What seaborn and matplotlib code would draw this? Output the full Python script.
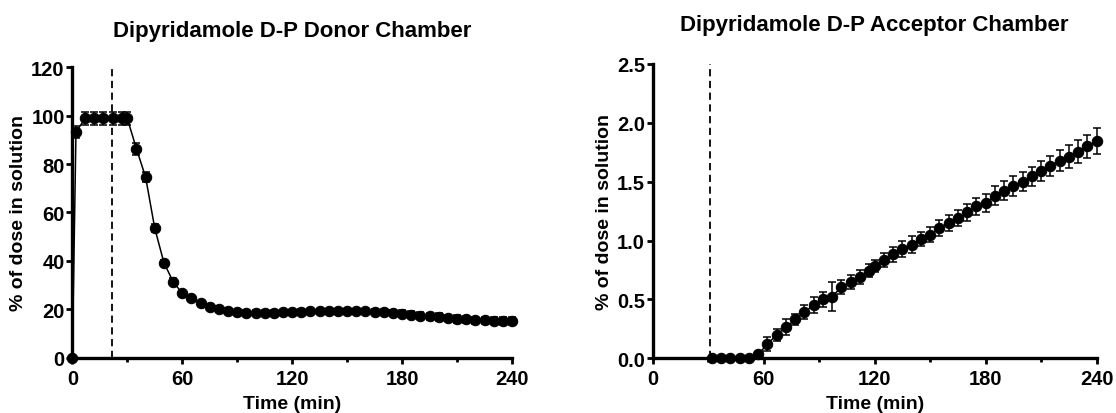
import numpy as np
import pandas as pd
import matplotlib
matplotlib.use("Agg")
import matplotlib.pyplot as plt
import seaborn as sns
from matplotlib.ticker import MultipleLocator, FormatStrFormatter

# ---------------- data ----------------
donor_time = [0, 2, 7, 12, 17, 22, 27] + list(range(30, 245, 5))
donor_pct = [0, 93.2, 98.8, 98.8, 98.8, 98.8, 98.8,
             98.8, 86.3, 74.6, 53.5, 39.3, 31.5, 26.7, 24.6, 22.6, 21.2,
             20.4, 19.4, 18.8, 18.7, 18.6, 18.6, 18.7, 18.9, 18.9, 19.0,
             19.2, 19.2, 19.3, 19.3, 19.2, 19.2, 19.2, 19.1, 18.9, 18.6,
             18.2, 17.9, 17.5, 17.2, 16.9, 16.5, 16.2, 15.9, 15.6, 15.5,
             15.4, 15.3, 15.2]
donor_err = [0, 2.6, 2.8, 2.8, 2.8, 2.8, 2.8,
             2.8, 2.4, 2.2, 1.6, 1.2, 1.6, 1.0, 1.0, 1.0, 1.0,
             1.0, 1.0, 1.0, 1.0, 1.0, 1.0, 1.0, 1.0, 1.0, 1.0,
             1.0, 1.0, 1.0, 1.0, 1.0, 1.0, 1.0, 1.0, 1.2, 1.2,
             1.4, 1.3, 1.5, 1.4, 1.6, 1.4, 1.6, 1.5, 1.5, 1.5,
             1.5, 1.6, 1.6]

acc_time = list(range(32, 113, 5)) + [117] + list(range(120, 245, 5))
acc_pct = [0, 0, 0, 0, 0, 0.035, 0.12, 0.20, 0.265, 0.33, 0.39, 0.455,
           0.50, 0.525, 0.605, 0.645, 0.688, 0.745, 0.787, 0.835, 0.883,
           0.929, 0.966, 1.014, 1.05, 1.107, 1.15, 1.19, 1.24, 1.29, 1.317,
           1.38, 1.424, 1.467, 1.50, 1.546, 1.594, 1.636, 1.68, 1.713,
           1.755, 1.80, 1.843]
acc_err = [0, 0, 0, 0, 0, 0.02, 0.06, 0.05, 0.07, 0.05, 0.06, 0.07,
           0.06, 0.12, 0.06, 0.06, 0.06, 0.055, 0.05, 0.06, 0.065,
           0.07, 0.07, 0.06, 0.065, 0.07, 0.07, 0.07, 0.07, 0.07, 0.075,
           0.08, 0.08, 0.085, 0.08, 0.08, 0.085, 0.085, 0.09, 0.095,
           0.10, 0.10, 0.11]

donor_mark = 21.5
acc_mark = 31

titles = ["Dipyridamole D-P Donor Chamber", "Dipyridamole D-P Acceptor Chamber"]
xlabel = "Time (min)"
ylabel = "% of dose in solution"
x_ticks = [0, 60, 120, 180, 240]

# ---------------- style ----------------
sns.set_theme(style="white")
plt.rcParams["font.family"] = ["Liberation Sans", "DejaVu Sans"]
plt.rcParams["font.weight"] = "bold"
plt.rcParams["text.color"] = "black"
plt.rcParams["axes.labelcolor"] = "black"
plt.rcParams["xtick.color"] = "black"
plt.rcParams["ytick.color"] = "black"

fig = plt.figure(figsize=(11.16, 4.14), dpi=100)
ax1 = fig.add_axes([0.0648, 0.1329, 0.394, 0.7028])
ax2 = fig.add_axes([0.5849, 0.1321, 0.3978, 0.7109])

donor_df = pd.DataFrame({"t": donor_time, "v": donor_pct, "e": donor_err})
acc_df = pd.DataFrame({"t": acc_time, "v": acc_pct, "e": acc_err})


def draw(ax, df, mark, ymax, ystep, fmt, title, title_y):
    ax.axvline(mark, color="black", lw=1.3, ls=(0, (4, 2.5)), zorder=1)
    ax.errorbar(df["t"], df["v"], yerr=df["e"], fmt="none", ecolor="black",
                elinewidth=1.1, capsize=3.2, capthick=1.1, zorder=2, clip_on=False)
    sns.lineplot(data=df, x="t", y="v", ax=ax, color="black", lw=1.1,
                 marker="o", markersize=7.5, markeredgecolor="black",
                 markerfacecolor="black", zorder=3, clip_on=False)
    ax.set_xlim(0, 240)
    ax.set_ylim(0, ymax)
    ax.set_xticks(x_ticks)
    ax.xaxis.set_minor_locator(MultipleLocator(30))
    ax.yaxis.set_major_locator(MultipleLocator(ystep))
    ax.yaxis.set_major_formatter(FormatStrFormatter(fmt))
    for s in ["top", "right"]:
        ax.spines[s].set_visible(False)
    for s in ["left", "bottom"]:
        ax.spines[s].set_linewidth(2.4)
        ax.spines[s].set_color("black")
    ax.tick_params(axis="both", which="both", direction="out", colors="black",
                   width=2, labelsize=14.5, length=4)
    ax.tick_params(axis="x", which="both", pad=4, bottom=True)
    ax.tick_params(axis="x", which="minor", length=3)
    ax.tick_params(axis="y", which="both", pad=1.5, left=True)
    for lab in ax.get_xticklabels() + ax.get_yticklabels():
        lab.set_fontweight("bold")
        lab.set_color("black")
    ax.set_xlabel(xlabel, fontsize=14, fontweight="bold", labelpad=5, color="black")
    ax.set_ylabel(ylabel, fontsize=14, fontweight="bold", labelpad=3, color="black")
    ax.grid(False)
    ax.set_facecolor("white")
    bb = ax.get_position()
    fig.text((bb.x0 + bb.x1) / 2, title_y, title, ha="center", va="center",
             fontsize=16, fontweight="bold", color="black")


draw(ax1, donor_df, donor_mark, 120, 20, "%d", titles[0], 1 - 32 / 414)
draw(ax2, acc_df, acc_mark, 2.5, 0.5, "%.1f", titles[1], 1 - 25 / 414)

fig.savefig("out.png", dpi=100, facecolor="white")
